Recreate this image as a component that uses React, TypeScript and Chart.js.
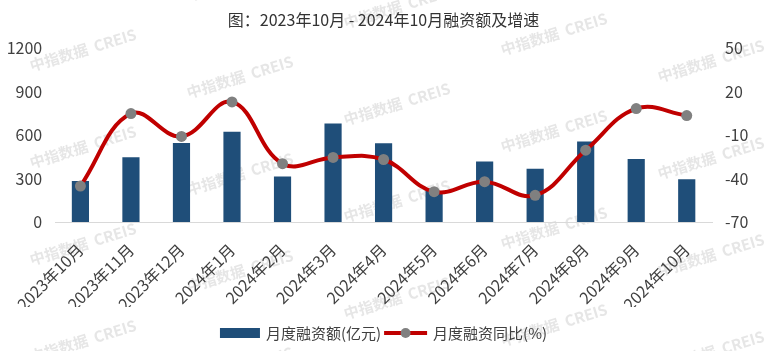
import React, { useEffect, useRef } from 'react';
import { Chart, registerables } from 'chart.js';

Chart.register(...registerables);

const FONT = '"Noto Sans CJK SC", "Noto Sans", sans-serif';

const titleText = '图：2023年10月 - 2024年10月融资额及增速';
const categories = [
  '2023年10月', '2023年11月', '2023年12月', '2024年1月', '2024年2月', '2024年3月',
  '2024年4月', '2024年5月', '2024年6月', '2024年7月', '2024年8月', '2024年9月', '2024年10月',
];
const seriesNames = ['月度融资额(亿元)', '月度融资同比(%)'];
const amounts = [282, 447, 544, 622, 314, 679, 543, 213, 418, 367, 555, 434, 294];
const growth = [-45.2, 4.8, -11, 12.8, -29.8, -25.5, -26.9, -49.1, -42.2, -51.6, -20.5, 8.2, 3.4];
const leftTicks = [0, 300, 600, 900, 1200];
const rightTicks = [-70, -40, -10, 20, 50];
const watermarkText = '中指数据  CREIS';

const BAR_COLOR = '#1F4E79';
const LINE_COLOR = '#C00000';
const POINT_COLOR = '#808080';
const TEXT_COLOR = '#404040';

const watermarkPlugin = {
  id: 'watermark',
  beforeDraw(chart: any) {
    const ctx = chart.ctx;
    ctx.save();
    ctx.font = `bold 15px ${FONT}`;
    ctx.fillStyle = 'rgba(205,205,205,0.5)';
    ctx.textAlign = 'center';
    ctx.textBaseline = 'middle';
    for (let i = 0; i < 5; i++) {
      const cx = 83 + 157 * i;
      for (let k = -1; k < 5; k++) {
        const cy = 50 + 27 * i + 97 * k;
        if (cy < -30 || cy > 380) continue;
        ctx.save();
        ctx.translate(cx, cy);
        ctx.rotate(-17 * Math.PI / 180);
        ctx.fillText(watermarkText, 0, 0);
        ctx.restore();
      }
    }
    ctx.restore();
  },
};

const titlePlugin = {
  id: 'customTitle',
  afterDraw(chart: any) {
    const ctx = chart.ctx;
    ctx.save();
    ctx.font = `16px ${FONT}`;
    ctx.fillStyle = '#333333';
    ctx.textAlign = 'center';
    ctx.textBaseline = 'middle';
    ctx.fillText(titleText, chart.width / 2, 20);
    ctx.restore();
  },
};

const legendPlugin = {
  id: 'customLegend',
  afterDraw(chart: any) {
    const ctx = chart.ctx;
    ctx.save();
    ctx.font = `15px ${FONT}`;
    ctx.textBaseline = 'middle';
    const boxW = 40;
    const lineW = 43;
    const gap = 6;
    const w1 = ctx.measureText(seriesNames[0]).width;
    const w2 = ctx.measureText(seriesNames[1]).width;
    const total = boxW + gap + w1 + 3 + lineW + gap + w2;
    let x = chart.width / 2 - total / 2;
    const y = 333;
    ctx.fillStyle = BAR_COLOR;
    ctx.fillRect(x, y - 5, boxW, 10);
    x += boxW + gap;
    ctx.fillStyle = TEXT_COLOR;
    ctx.textAlign = 'left';
    ctx.fillText(seriesNames[0], x, y);
    x += w1 + 3;
    ctx.strokeStyle = LINE_COLOR;
    ctx.lineWidth = 4;
    ctx.beginPath();
    ctx.moveTo(x, y);
    ctx.lineTo(x + lineW, y);
    ctx.stroke();
    ctx.fillStyle = POINT_COLOR;
    ctx.beginPath();
    ctx.arc(x + lineW / 2, y, 5, 0, Math.PI * 2);
    ctx.fill();
    x += lineW + gap;
    ctx.fillStyle = TEXT_COLOR;
    ctx.fillText(seriesNames[1], x, y);
    ctx.restore();
  },
};

export default function App() {
  const ref = useRef<HTMLCanvasElement>(null);
  useEffect(() => {
    const tickFont = { family: FONT, size: 16 };
    const plain = (v: any) => String(v);
    const chart = new Chart(ref.current as HTMLCanvasElement, {
      type: 'bar',
      data: {
        labels: categories,
        datasets: [
          {
            type: 'bar',
            label: seriesNames[0],
            data: amounts,
            backgroundColor: BAR_COLOR,
            yAxisID: 'y',
            order: 2,
            barPercentage: 0.34,
            categoryPercentage: 1,
          } as any,
          {
            type: 'line',
            label: seriesNames[1],
            data: growth,
            borderColor: LINE_COLOR,
            borderWidth: 4,
            tension: 0.4,
            pointRadius: 5.5,
            pointBackgroundColor: POINT_COLOR,
            pointBorderColor: POINT_COLOR,
            pointBorderWidth: 0,
            yAxisID: 'y1',
            order: 1,
          } as any,
        ],
      },
      options: {
        responsive: false,
        animation: false,
        devicePixelRatio: 1,
        layout: { padding: { top: 48, bottom: 44, left: 0, right: 0 } },
        plugins: {
          legend: { display: false },
          title: { display: false },
          tooltip: { enabled: false },
        },
        scales: {
          x: {
            grid: { display: false, drawTicks: false },
            border: { display: true, color: '#D9D9D9', width: 1 },
            ticks: {
              minRotation: 45,
              maxRotation: 45,
              padding: 18,
              autoSkip: false,
              color: TEXT_COLOR,
              font: tickFont,
            },
            afterFit: (s: any) => { s.height = 85; },
          },
          y: {
            position: 'left',
            min: leftTicks[0],
            max: leftTicks[leftTicks.length - 1],
            grid: { display: false, drawTicks: false },
            border: { display: false },
            ticks: { stepSize: leftTicks[1] - leftTicks[0], padding: 13, color: TEXT_COLOR, font: tickFont, callback: plain },
            afterFit: (s: any) => { s.width = 55; },
          },
          y1: {
            position: 'right',
            min: rightTicks[0],
            max: rightTicks[rightTicks.length - 1],
            grid: { display: false, drawTicks: false },
            border: { display: false },
            ticks: { stepSize: rightTicks[1] - rightTicks[0], padding: 13, color: TEXT_COLOR, font: tickFont, callback: plain },
            afterFit: (s: any) => { s.width = 55; },
          },
        },
      } as any,
      plugins: [watermarkPlugin, titlePlugin, legendPlugin],
    });
    return () => chart.destroy();
  }, []);
  return (
    <div style={{ position: 'fixed', left: 0, top: 0, width: 767, height: 351, background: '#fff' }}>
      <canvas ref={ref} width={767} height={351} style={{ display: 'block' }} />
    </div>
  );
}
